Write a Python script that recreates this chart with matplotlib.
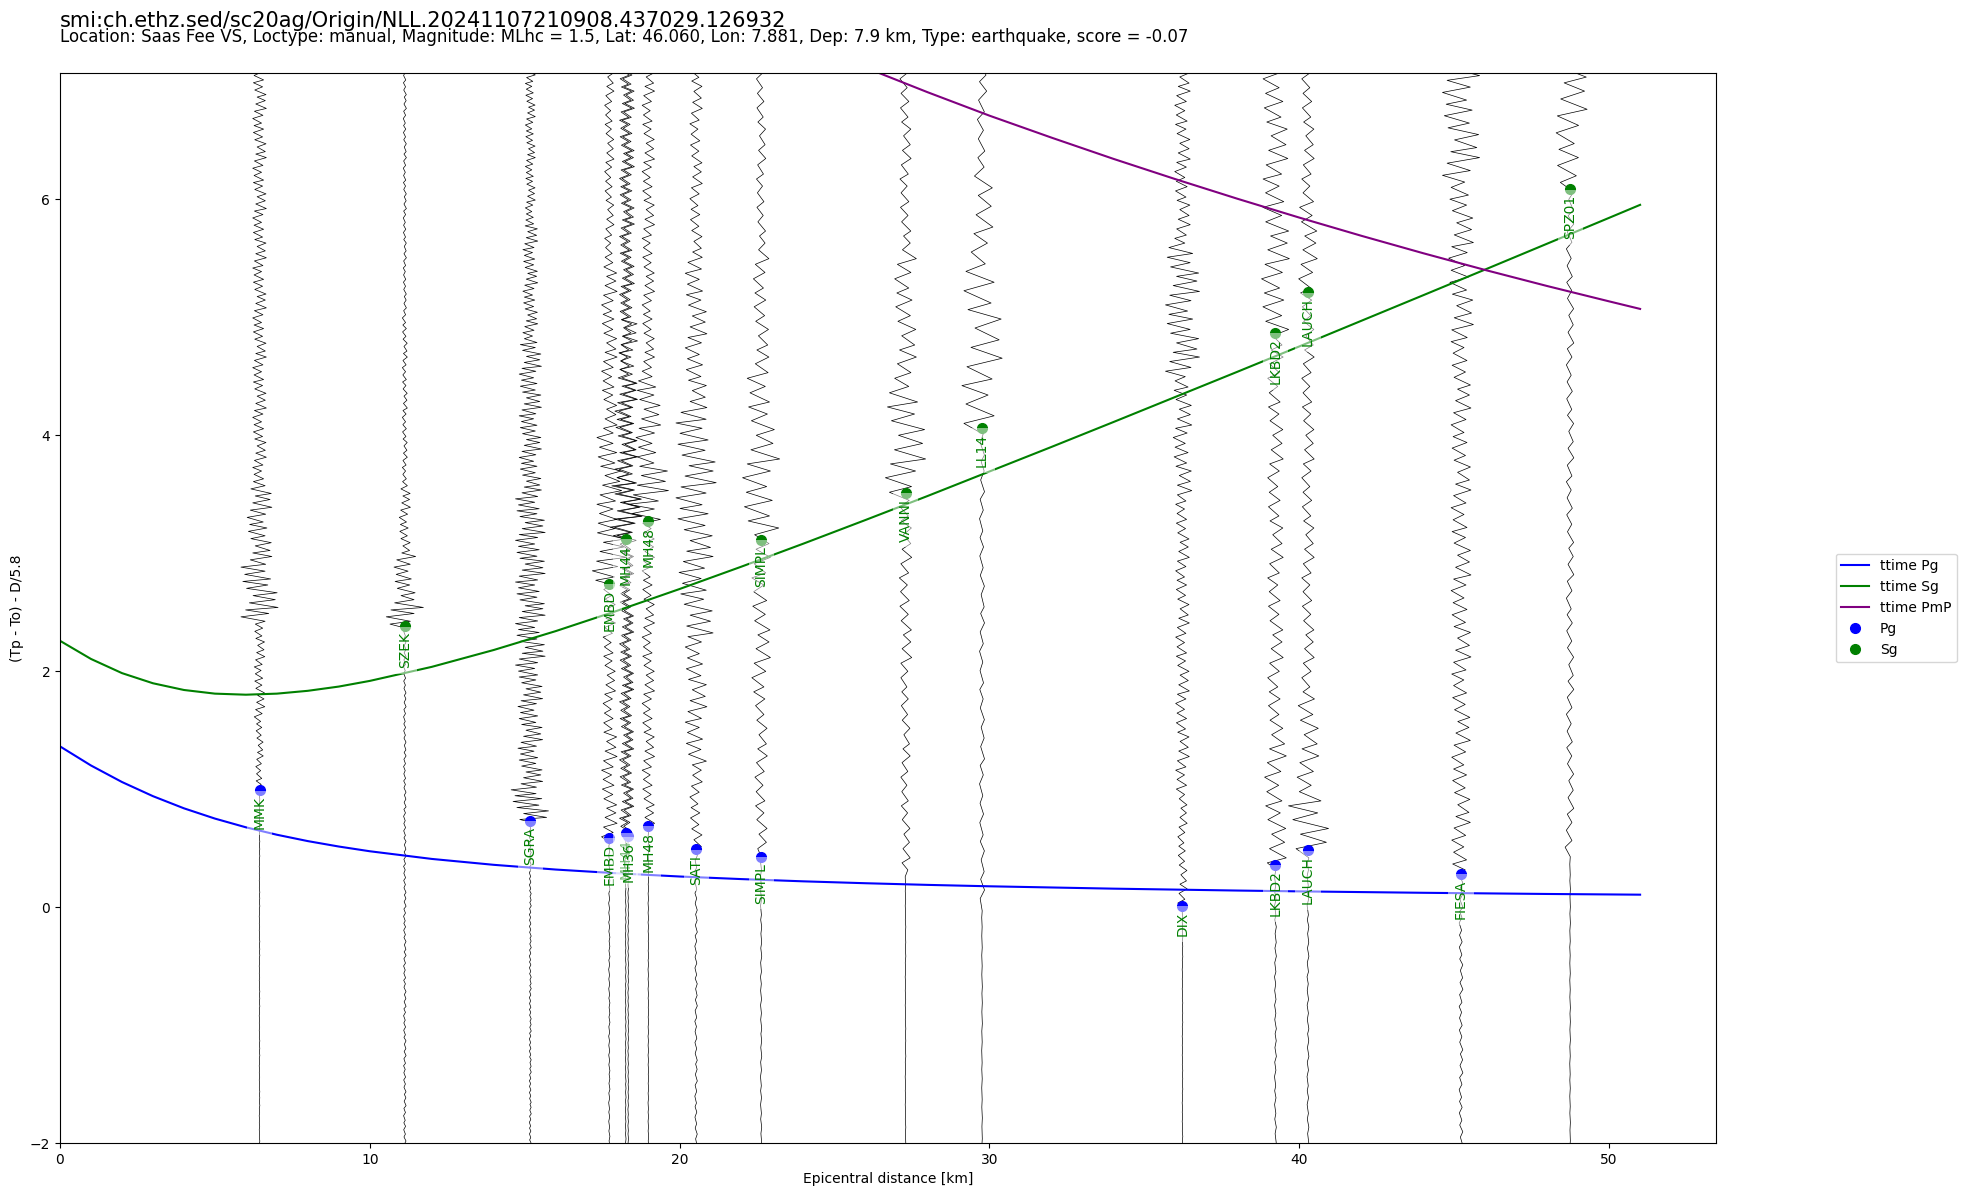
import numpy as np
import matplotlib.pyplot as plt

title = "smi:ch.ethz.sed/sc20ag/Origin/NLL.20241107210908.437029.126932"
subtitle = ("Location: Saas Fee VS, Loctype: manual, Magnitude: MLhc = 1.5, Lat: 46.060, "
            "Lon: 7.881, Dep: 7.9 km, Type: earthquake, score = -0.07")

# stations with waveforms, epicentral distance in km
stations = ["MMK", "SZEK", "SGRA", "EMBD", "MH44", "MH36", "MH48", "SATI", "SIMPL",
            "VANNI", "LL14", "DIX", "LKBD2", "LAUCH", "FIESA", "SPZ01"]
distances = [6.44, 11.13, 15.18, 17.73, 18.26, 18.34, 18.99, 20.53, 22.63,
             27.29, 29.76, 36.23, 39.23, 40.28, 45.22, 48.74]
# half period of the wiggles (s)
half_periods = [0.03, 0.03, 0.025, 0.04, 0.035, 0.035, 0.04, 0.045, 0.06,
                0.06, 0.08, 0.04, 0.06, 0.06, 0.05, 0.07]
# amplitude envelope: (t_from, t_to, half amplitude in km)
envelopes = [
    [(-2.1, 0.99, 0.01), (0.99, 1.6, 0.12), (1.6, 2.4, 0.17), (2.4, 2.9, 0.6),
     (2.9, 3.6, 0.4), (3.6, 7.2, 0.22)],
    [(-2.1, 2.38, 0.04), (2.38, 2.6, 0.6), (2.6, 3.0, 0.35), (3.0, 3.6, 0.18),
     (3.6, 5.0, 0.08), (5.0, 7.2, 0.05)],
    [(-2.1, 0.73, 0.03), (0.73, 1.0, 0.62), (1.0, 2.0, 0.4), (2.0, 3.5, 0.48),
     (3.5, 4.8, 0.36), (4.8, 5.8, 0.24), (5.8, 7.2, 0.16)],
    [(-2.1, 0.585, 0.02), (0.585, 1.5, 0.25), (1.5, 2.74, 0.2), (2.74, 3.2, 0.55),
     (3.2, 4.0, 0.4), (4.0, 5.5, 0.25), (5.5, 7.2, 0.15)],
    [(-2.1, 0.62, 0.01), (0.62, 3.12, 0.2), (3.12, 3.6, 0.5), (3.6, 4.5, 0.35),
     (4.5, 7.2, 0.2)],
    [(-2.1, 0.60, 0.01), (0.60, 3.1, 0.18), (3.1, 3.7, 0.45), (3.7, 5.0, 0.3),
     (5.0, 7.2, 0.2)],
    [(-2.1, 0.69, 0.01), (0.69, 3.27, 0.2), (3.27, 3.7, 0.65), (3.7, 4.5, 0.4),
     (4.5, 7.2, 0.2)],
    [(-2.1, 0.49, 0.04), (0.49, 1.2, 0.2), (1.2, 2.3, 0.35), (2.3, 3.2, 0.55),
     (3.2, 4.2, 0.65), (4.2, 5.5, 0.35), (5.5, 7.2, 0.2)],
    [(-2.1, 0.425, 0.02), (0.425, 1.8, 0.2), (1.8, 3.1, 0.3), (3.1, 3.9, 0.6),
     (3.9, 4.6, 0.45), (4.6, 5.5, 0.25), (5.5, 7.2, 0.15)],
    [(-2.1, 0.3, 0.01), (0.3, 2.0, 0.15), (2.0, 3.51, 0.2), (3.51, 4.4, 0.65),
     (4.4, 5.5, 0.35), (5.5, 7.2, 0.18)],
    [(-2.1, 0.0, 0.01), (0.0, 4.06, 0.08), (4.06, 5.4, 0.65), (5.4, 6.2, 0.35),
     (6.2, 7.2, 0.15)],
    [(-2.1, 0.01, 0.01), (0.01, 1.0, 0.15), (1.0, 3.5, 0.22), (3.5, 4.5, 0.3),
     (4.5, 5.6, 0.55), (5.6, 7.2, 0.25)],
    [(-2.1, 0.36, 0.03), (0.36, 1.5, 0.35), (1.5, 4.87, 0.25), (4.87, 6.0, 0.45),
     (6.0, 7.2, 0.4)],
    [(-2.1, 0.48, 0.03), (0.48, 0.9, 0.7), (0.9, 1.8, 0.35), (1.8, 5.2, 0.2),
     (5.2, 6.0, 0.3), (6.0, 7.2, 0.2)],
    [(-2.1, 0.28, 0.06), (0.28, 2.0, 0.3), (2.0, 4.8, 0.32), (4.8, 6.2, 0.4),
     (6.2, 7.2, 0.6)],
    [(-2.1, 0.45, 0.01), (0.45, 0.6, 0.2), (0.6, 6.08, 0.12), (6.08, 6.6, 0.45),
     (6.6, 7.2, 0.55)],
]

# picks (reduced time)
pg_stations = ["MMK", "SGRA", "EMBD", "MH44", "MH36", "MH48", "SATI", "SIMPL",
               "DIX", "LKBD2", "LAUCH", "FIESA"]
pg_dist = [6.44, 15.18, 17.73, 18.26, 18.34, 18.99, 20.53, 22.63, 36.23, 39.23, 40.28, 45.22]
pg_time = [0.99, 0.73, 0.585, 0.63, 0.60, 0.69, 0.49, 0.425, 0.01, 0.36, 0.48, 0.28]

sg_stations = ["SZEK", "EMBD", "MH44", "MH48", "SIMPL", "VANNI", "LL14", "LKBD2",
               "LAUCH", "SPZ01"]
sg_dist = [11.13, 17.73, 18.26, 18.99, 22.63, 27.29, 29.76, 39.23, 40.28, 48.74]
sg_time = [2.38, 2.74, 3.12, 3.27, 3.11, 3.51, 4.06, 4.87, 5.21, 6.085]

# travel time curves
curve_d = [0, 1, 2, 3, 4, 5, 6, 7, 8, 9, 10, 12, 14, 16, 18, 20, 22, 24, 26, 28,
           30, 32, 34, 36, 38, 40, 42, 44, 46, 48, 50, 51]
ttime_pg = [1.362, 1.200, 1.060, 0.940, 0.837, 0.750, 0.676, 0.613, 0.559, 0.513,
            0.473, 0.408, 0.358, 0.318, 0.286, 0.259, 0.237, 0.218, 0.202, 0.188,
            0.176, 0.166, 0.156, 0.148, 0.140, 0.133, 0.127, 0.121, 0.116, 0.111,
            0.107, 0.105]
ttime_sg = [2.257, 2.103, 1.983, 1.897, 1.840, 1.809, 1.800, 1.809, 1.833, 1.869,
            1.917, 2.036, 2.179, 2.339, 2.513, 2.696, 2.886, 3.081, 3.281, 3.484,
            3.692, 3.900, 4.111, 4.324, 4.537, 4.752, 4.969, 5.186, 5.404, 5.623,
            5.842, 5.952]
pmp_d = [24, 26, 28, 30, 32, 34, 36, 38, 40, 42, 44, 46, 48, 50, 51]
ttime_pmp = [7.325, 7.115, 6.907, 6.708, 6.522, 6.342, 6.170, 6.004, 5.844, 5.690,
             5.542, 5.400, 5.264, 5.134, 5.070]

# irregular shape of the wiggles
peak_pattern = [1.0, 0.55, 0.85, 0.35, 0.95, 0.7, 0.45, 0.9, 0.6, 0.8, 0.3, 1.0, 0.5, 0.75]
step_pattern = [1.0, 0.7, 1.3, 0.9, 1.15, 0.8, 1.25, 0.95]

fig = plt.figure(figsize=(19.67, 11.96), dpi=100)
ax = fig.add_axes([0.0305, 0.0443, 0.8419, 0.8947])

for dist, hp, env in zip(distances, half_periods, envelopes):
    n = int(9.5 / hp) + 10
    steps = np.array([hp * step_pattern[i % len(step_pattern)] for i in range(n)])
    t = -2.1 + np.concatenate([[0.0], np.cumsum(steps)])
    t = t[t <= 7.3]
    amp = np.zeros_like(t)
    for t0, t1, a in env:
        amp[(t >= t0) & (t < t1)] = a
    amp[t >= 7.2] = env[-1][2]
    sign = np.where(np.arange(len(t)) % 2 == 0, 1.0, -1.0)
    pat = np.array([peak_pattern[i % len(peak_pattern)] for i in range(len(t))])
    ax.plot(dist + sign * amp * pat, t, color="black", lw=0.5)

ax.plot(curve_d, ttime_pg, color="blue", lw=1.5, label="ttime Pg")
ax.plot(curve_d, ttime_sg, color="green", lw=1.5, label="ttime Sg")
ax.plot(pmp_d, ttime_pmp, color="purple", lw=1.5, label="ttime PmP")

ax.plot(pg_dist, pg_time, "o", color="blue", ms=7, label="Pg")
ax.plot(sg_dist, sg_time, "o", color="green", ms=7, label="Sg")

for name, d, t in zip(pg_stations, pg_dist, pg_time):
    ax.text(d, t - 0.05, name, rotation=90, ha="center", va="top", color="green",
            fontsize=10, bbox=dict(facecolor="white", edgecolor="none", alpha=0.5))
for name, d, t in zip(sg_stations, sg_dist, sg_time):
    ax.text(d, t - 0.05, name, rotation=90, ha="center", va="top", color="green",
            fontsize=10, bbox=dict(facecolor="white", edgecolor="none", alpha=0.5))

ax.set_xlim(0, 53.45)
ax.set_ylim(-2, 7.07)
ax.set_xlabel("Epicentral distance [km]")
ax.set_ylabel("(Tp - To) - D/5.8")
ax.legend(loc="center left", bbox_to_anchor=(1.068, 0.5))

fig.text(60 / 1967, 1 - 27 / 1196, title, fontsize=15, va="baseline")
fig.text(60 / 1967, 1 - 42 / 1196, subtitle, fontsize=12, va="baseline")

fig.savefig("out.png", dpi=100)
